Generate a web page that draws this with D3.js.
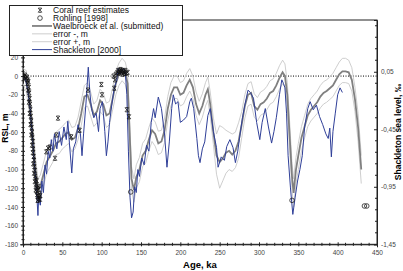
<!DOCTYPE html>
<html>
<head>
<meta charset="utf-8">
<script src="https://cdn.jsdelivr.net/npm/d3@7"></script>
<style>
  body { margin: 0; background: #fff; }
  svg { font-family: "Liberation Sans", Arial, sans-serif; }
</style>
</head>
<body>
<script>
// Waelbroeck et al. RSL (m) with error bands
var waelAge = [0,4,8,12,16,19,22,26,30,34,38,42,46,50,54,58,62,66,70,74,78,82,86,90,94,98,102,106,110,114,118,122,126,130,133,136,138,141,144,148,152,156,160,164,168,172,176,180,184,188,192,196,200,204,208,212,216,220,224,228,232,235,238,242,246,250,254,258,262,266,270,274,278,282,286,290,294,298,302,306,310,314,318,322,326,330,333,336,339,342,344,347,350,354,358,362,366,370,374,378,382,386,390,394,398,402,406,410,414,418,422,426,430];
var waelRsl = [0,-5,-25,-60,-100,-122,-118,-105,-92,-86,-80,-72,-70,-66,-62,-60,-68,-66,-56,-40,-22,-20,-30,-42,-38,-26,-30,-42,-40,-24,-8,2,7,3,-8,-70,-110,-122,-108,-100,-85,-80,-68,-58,-62,-72,-70,-58,-35,-20,-12,-12,-20,-18,-10,-4,-12,-30,-40,-32,-20,-14,-30,-60,-85,-92,-88,-82,-80,-84,-80,-70,-52,-32,-20,-18,-32,-36,-30,-28,-24,-18,-16,-10,-2,4,0,-20,-65,-108,-125,-100,-85,-66,-54,-42,-36,-32,-28,-22,-18,-16,-13,-10,-4,2,5,5,4,-4,-25,-55,-100];
var errPlus = [8,6,-12,-47,-88,-110,-106,-93,-80,-74,-68,-60,-57,-54,-50,-47,-55,-54,-44,-27,-10,-7,-17,-30,-26,-14,-18,-29,-27,-12,5,14,19,15,4,-57,-97,-110,-95,-87,-72,-67,-55,-45,-49,-59,-58,-45,-22,-7,0,0,-7,-5,3,8,0,-17,-27,-19,-7,-1,-17,-45,-62,-53,-55,-58,-60,-62,-60,-50,-38,-20,-8,-6,-19,-23,-17,-15,-11,-5,-3,3,11,17,13,-7,-50,-94,-110,-87,-72,-54,-42,-30,-24,-20,-16,-10,-6,-4,-1,3,9,15,19,19,17,9,-12,-40,-85];
var errMinus = [-8,-16,-38,-73,-112,-134,-130,-118,-104,-98,-92,-84,-83,-78,-75,-72,-81,-78,-68,-53,-34,-32,-43,-54,-50,-38,-42,-55,-52,-36,-20,-10,-5,-9,-20,-83,-122,-135,-120,-113,-97,-93,-80,-70,-75,-84,-82,-71,-48,-32,-24,-24,-32,-30,-22,-16,-24,-42,-52,-44,-32,-26,-43,-73,-105,-120,-112,-104,-100,-102,-98,-88,-66,-45,-32,-30,-44,-48,-42,-40,-36,-30,-28,-22,-14,-8,-12,-32,-80,-122,-140,-115,-100,-80,-66,-54,-48,-44,-40,-34,-30,-28,-25,-22,-16,-10,-7,-7,-8,-16,-38,-70,-115];

// Shackleton [2000] sea level (per mil, right axis)
var shackAge = [0,3,6,9,12,14,16,18,19,20,22,24,26,28,30,32,34,36,38,40,43,46,49,52,55,57,59,62,64,67,70,73,75,77,80,83,85,87,90,93,96,98,101,104,106,108,110,113,116,119,121,124,126,128,130,132,134,136,138,140,142,144,146,148,151,154,157,160,163,166,168,172,176,180,183,186,189,191,194,197,200,204,208,212,214,217,221,223,225,228,231,235,238,242,246,248,252,256,259,263,267,270,273,276,279,282,286,289,293,297,301,304,308,312,316,319,322,326,329,331,333,335,337,340,343,346,349,352,355,358,362,365,369,373,377,381,385,388,390,392,394,397,400,403,406];
var shackSL = [0.01,-0.01,-0.11,-0.27,-0.52,-0.72,-0.88,-1.08,-1.20,-1.03,-1.11,-0.90,-1.00,-0.76,-0.84,-0.64,-0.70,-0.54,-0.64,-0.49,-0.62,-0.47,-0.59,-0.43,-0.54,-0.38,-0.57,-0.83,-0.62,-0.56,-0.41,-0.49,-0.68,-0.49,-0.23,0.09,-0.13,-0.27,-0.35,-0.31,-0.47,-0.27,-0.21,-0.47,-0.68,-0.56,-0.39,-0.23,-0.09,-0.03,0.08,0.03,0.06,0.08,0.05,-0.15,-0.64,-1.04,-1.22,-1.17,-0.95,-1.00,-0.80,-0.86,-0.70,-0.76,-0.59,-0.64,-0.39,-0.27,-0.35,-0.17,-0.27,-0.50,-0.78,-0.56,-0.27,-0.15,-0.23,-0.21,-0.39,-0.37,-0.34,-0.21,-0.18,-0.27,-0.53,-0.68,-0.74,-0.62,-0.56,-0.33,-0.27,-0.47,-0.61,-0.78,-0.69,-0.72,-0.60,-0.54,-0.61,-0.74,-0.64,-0.49,-0.35,-0.24,-0.11,-0.13,-0.18,-0.39,-0.54,-0.39,-0.27,-0.43,-0.57,-0.47,-0.35,-0.15,-0.02,-0.05,-0.09,-0.31,-0.68,-0.96,-1.19,-1.04,-0.90,-0.80,-0.68,-0.43,-0.27,-0.21,-0.28,-0.24,-0.34,-0.41,-0.49,-0.53,-0.44,-0.69,-0.47,-0.31,-0.15,-0.09,-0.13];

// coral reef estimates (ka, m)
var coralAge = [0.5,1.5,2.5,3.5,5,6,5.5,7,7.5,6.5,8,8.5,7.5,9,9.5,8.5,10,10.5,9.5,11,11.5,10.5,12,12.5,11.5,13,12.5,13.5,14,13,14.5,15,14,15.5,16,15,16.5,17,16,17.5,18,19,20,18.5,21,20,22,19.5,17.5,21.5,29.6,31.8,34,40.7,42.4,44.5,61.4,72,82.6,99.6,100.4,115,116,117,118,120,121,122,123,124,125,126,127,128,129,130,131,132,134.7,133];
var coralRsl = [0,-1,1,-2,-1,-4,-8,-6,-12,-15,-18,-24,-28,-30,-36,-40,-43,-48,-52,-55,-60,-63,-66,-70,-74,-78,-82,-86,-90,-94,-97,-101,-104,-107,-110,-113,-116,-119,-122,-124,-127,-129,-131,-133,-126,-121,-128,-118,-112,-132,-81,-77,-76,-88,-63,-45,-65,-58,-15,-9,-20,0,-13,-4,2,4,6,3,5,7,4,6,2,5,3,6,3,-36,-43.5,4];

// Rohling [1998]
var rohlingAge = [137, 342, 434, 437];
var rohlingRsl = [-124, -133, -139, -139];

var ageTicks = [0, 50, 100, 150, 200, 250, 300, 350, 400, 450];
var rslTicks = [-180, -160, -140, -120, -100, -80, -60, -40, -20, 0, 20, 40, 60];
var slTicks = [0.05, -0.45, -0.95, -1.45];

var legendItems = ["Coral reef estimates", "Rohling [1998]", "Waelbroeck et al. (submitted)",
  "error -, m", "error +, m", "Shackleton [2000]"];

var width = 403, height = 271;
var blue = "#2f3f98";

var x = d3.scaleLinear().domain([0, 450]).range([23, 377]);
var y = d3.scaleLinear().domain([-180, 60]).range([244.3, 20]);
var yR = d3.scaleLinear().domain([-1.45, 0.5]).range([244.3, 20]);

var svg = d3.select("body").append("svg")
    .attr("width", width)
    .attr("height", height);

svg.append("defs").append("clipPath").attr("id", "plot")
  .append("rect").attr("x", 23).attr("y", 20).attr("width", 354).attr("height", 224.3);

// frame
svg.append("rect")
    .attr("x", 23).attr("y", 20)
    .attr("width", 354).attr("height", 224.3)
    .attr("fill", "none").attr("stroke", "#222").attr("stroke-width", 1);

// zero line
svg.append("line")
    .attr("x1", x(0)).attr("x2", x(450))
    .attr("y1", y(0)).attr("y2", y(0))
    .attr("stroke", "#000").attr("stroke-width", 1)
    .attr("stroke-dasharray", "1,1.5");

// axes
function dash(s) { return s.replace("\u2212", "-"); }

var xAxis = d3.axisBottom(x).tickValues(ageTicks).tickSize(3).tickFormat(d3.format("d"));
var gx = svg.append("g").attr("transform", "translate(0,244.3)").call(xAxis);
gx.selectAll(".tick line").attr("y1", -2).attr("y2", 2);
gx.append("g").selectAll("line")
    .data(d3.range(10, 450, 10).filter(function(d) { return d % 50 != 0; }))
    .enter().append("line")
    .attr("x1", x).attr("x2", x).attr("y1", -1.5).attr("y2", 1.5)
    .attr("stroke", "#222");

var yAxis = d3.axisLeft(y).tickValues(rslTicks).tickSize(3)
    .tickFormat(function(d) { return dash(String(d)); });
var gy = svg.append("g").attr("transform", "translate(23,0)").call(yAxis);
gy.selectAll(".tick line").attr("x1", -2).attr("x2", 2);
gy.append("g").selectAll("line")
    .data(d3.range(-175, 60, 5).filter(function(d) { return d % 20 != 0; }))
    .enter().append("line")
    .attr("y1", y).attr("y2", y).attr("x1", -1.5).attr("x2", 1.5)
    .attr("stroke", "#222");

var yRAxis = d3.axisRight(yR).tickValues(slTicks).tickSize(-3)
    .tickFormat(function(d) { return dash(d3.format(".2f")(d)).replace(".", ","); });
var gr = svg.append("g").attr("transform", "translate(377,0)").call(yRAxis);
gr.append("g").selectAll("line")
    .data([0.45, 0.35, 0.25, 0.15, -0.05, -0.15, -0.25, -0.35, -0.55, -0.65, -0.75, -0.85, -1.05, -1.15, -1.25, -1.35])
    .enter().append("line")
    .attr("y1", yR).attr("y2", yR).attr("x1", 0).attr("x2", -2)
    .attr("stroke", "#222");

[gx, gy, gr].forEach(function(g) {
  g.select(".domain").attr("stroke", "#222");
  g.selectAll(".tick line").attr("stroke", "#222");
  g.selectAll("text").attr("font-size", 6.5).attr("fill", "#444")
    .attr("font-family", "Liberation Sans, Arial, sans-serif");
});
gx.selectAll("text").attr("y", 6);
gy.selectAll("text").attr("x", -5);
gr.selectAll("text").attr("x", 4);

// axis titles
svg.append("text").attr("x", 200).attr("y", 268)
    .attr("text-anchor", "middle").attr("font-size", 9.5).attr("font-weight", "bold")
    .text("Age, ka");
svg.append("text").attr("transform", "translate(8,128)rotate(-90)")
    .attr("text-anchor", "middle").attr("font-size", 8.5).attr("font-weight", "bold")
    .text("RSL, m");
svg.append("text").attr("transform", "translate(401,132)rotate(-90)")
    .attr("text-anchor", "middle").attr("font-size", 8.5).attr("font-weight", "bold")
    .text("Shackleton sea level, \u2030");

// series
var plot = svg.append("g").attr("clip-path", "url(#plot)");

var line = d3.line()
    .x(function(d) { return x(d[0]); })
    .y(function(d) { return y(d[1]); });

plot.append("path").datum(d3.zip(waelAge, errMinus))
    .attr("d", line).attr("fill", "none").attr("stroke", "#c8c8c8").attr("stroke-width", 0.9);
plot.append("path").datum(d3.zip(waelAge, errPlus))
    .attr("d", line).attr("fill", "none").attr("stroke", "#c8c8c8").attr("stroke-width", 0.9);
plot.append("path").datum(d3.zip(waelAge, waelRsl))
    .attr("d", line).attr("fill", "none").attr("stroke", "#808080").attr("stroke-width", 1.8);

var lineR = d3.line()
    .x(function(d) { return x(d[0]); })
    .y(function(d) { return yR(d[1]); });
plot.append("path").datum(d3.zip(shackAge, shackSL))
    .attr("d", lineR).attr("fill", "none").attr("stroke", blue).attr("stroke-width", 1);

var xMark = "M-1.6,-2.1H1.6M-1.6,2.1H1.6M-1.8,-2L1.8,2M1.8,-2L-1.8,2";

plot.append("g").selectAll("path")
    .data(d3.zip(coralAge, coralRsl))
    .enter().append("path")
    .attr("transform", function(d) { return "translate(" + x(d[0]) + "," + y(d[1]) + ")"; })
    .attr("d", xMark)
    .attr("fill", "none").attr("stroke", "#111").attr("stroke-width", 0.8);

plot.append("g").selectAll("circle")
    .data(d3.zip(rohlingAge, rohlingRsl))
    .enter().append("circle")
    .attr("cx", function(d) { return x(d[0]); })
    .attr("cy", function(d) { return y(d[1]); })
    .attr("r", 2.3)
    .attr("fill", "none").attr("stroke", "#222").attr("stroke-width", 0.8);

// legend
var lg = svg.append("g");
lg.append("rect")
    .attr("x", 9.5).attr("y", 5.5).attr("width", 173).attr("height", 50)
    .attr("fill", "#fff").attr("stroke", "#222").attr("stroke-width", 1);

var rowY = d3.scalePoint().domain(legendItems).range([10.2, 49.6]);
lg.selectAll("text").data(legendItems).enter().append("text")
    .attr("x", 53).attr("y", function(d) { return rowY(d) + 3; })
    .attr("font-size", 8.5).attr("fill", "#111")
    .text(function(d) { return d; });

lg.append("path").attr("d", xMark)
    .attr("transform", "translate(40," + rowY(legendItems[0]) + ")")
    .attr("fill", "none").attr("stroke", "#111").attr("stroke-width", 0.8);
lg.append("circle").attr("cx", 40).attr("cy", rowY(legendItems[1])).attr("r", 2.3)
    .attr("fill", "none").attr("stroke", "#222").attr("stroke-width", 0.8);

var legendStroke = [null, null, ["#808080", 1.8], ["#c8c8c8", 0.9], ["#c8c8c8", 0.9], [blue, 1]];
legendItems.forEach(function(d, i) {
  if (!legendStroke[i]) return;
  lg.append("line")
      .attr("x1", 32).attr("x2", 52)
      .attr("y1", rowY(d)).attr("y2", rowY(d))
      .attr("stroke", legendStroke[i][0]).attr("stroke-width", legendStroke[i][1]);
});
</script>
</body>
</html>
